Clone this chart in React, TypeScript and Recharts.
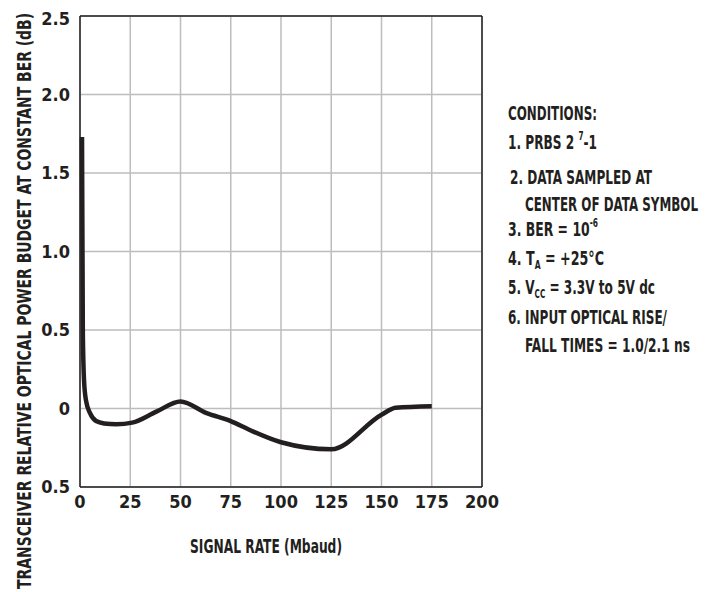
import { LineChart, Line, XAxis, YAxis, CartesianGrid, ReferenceLine } from 'recharts'

// signal rate (Mbaud) and relative optical power budget (dB)
const rates = [1, 1.4, 2, 3, 5, 8, 12, 18, 26, 38, 50, 63, 75, 85, 100, 125, 150, 157, 175]
const budget = [1.73, 0.5, 0.18, 0.05, -0.03, -0.08, -0.095, -0.1, -0.09, -0.02, 0.045, -0.03, -0.08, -0.14, -0.215, -0.26, -0.04, 0.005, 0.015]

const xTicks = [0, 25, 50, 75, 100, 125, 150, 175, 200]
const yTicks = [-0.5, 0, 0.5, 1, 1.5, 2, 2.5]

const xTitle = 'SIGNAL RATE (Mbaud)'
const yTitle = 'TRANSCEIVER RELATIVE OPTICAL POWER BUDGET AT CONSTANT BER (dB)'

const data = rates.map((rate, i) => ({ rate, budget: budget[i] }))

const FONT = '"DejaVu Sans Condensed", "Liberation Sans Narrow", "Liberation Sans", sans-serif'
const INK = '#231f20'

const fmtY = (v: number) => (v === 0 ? '0' : Math.abs(v).toFixed(1))

const Note = ({ x, y, w, children }: { x: number; y: number; w: number; children: any }) => (
  <text
    x={x}
    y={y}
    fontFamily={FONT}
    fontWeight={700}
    fontSize={20}
    fill={INK}
    textLength={w}
    lengthAdjust="spacingAndGlyphs"
  >
    {children}
  </text>
)

export default function App() {
  return (
    <div style={{ position: 'relative', width: 700, height: 584 }}>
      <LineChart
        width={700}
        height={580}
        data={data}
        margin={{ top: 8, right: 226, left: 12, bottom: 71 }}
      >
        <CartesianGrid stroke="#bdbdbd" strokeWidth={1.5} />
        <XAxis
          type="number"
          dataKey="rate"
          domain={[0, 200]}
          ticks={xTicks}
          height={30}
          tickLine={false}
          tickMargin={2}
          axisLine={{ stroke: INK, strokeWidth: 1.5 }}
          tick={{ fill: INK, fontSize: 18, fontWeight: 700, fontFamily: FONT }}
        />
        <YAxis
          type="number"
          domain={[-0.5, 2.5]}
          ticks={yTicks}
          width={60}
          tickLine={false}
          tickMargin={4}
          tickFormatter={fmtY}
          axisLine={{ stroke: INK, strokeWidth: 1.5 }}
          tick={{ fill: INK, fontSize: 18, fontWeight: 700, fontFamily: FONT }}
        />
        <ReferenceLine y={2.5} stroke={INK} strokeWidth={1.5} />
        <ReferenceLine x={200} stroke={INK} strokeWidth={1.5} />
        <Line
          type="monotone"
          dataKey="budget"
          stroke={INK}
          strokeWidth={4.5}
          dot={false}
          isAnimationActive={false}
        />
      </LineChart>

      <svg
        width={700}
        height={584}
        style={{ position: 'absolute', left: 0, top: 0, pointerEvents: 'none' }}
      >
        <text
          x={258}
          y={545}
          textAnchor="middle"
          fontFamily={FONT}
          fontWeight={700}
          fontSize={20}
          fill={INK}
          textLength={152}
          lengthAdjust="spacingAndGlyphs"
        >
          {xTitle}
        </text>
        <text
          transform="translate(16, 293) rotate(-90)"
          textAnchor="middle"
          dominantBaseline="central"
          fontFamily={FONT}
          fontWeight={700}
          fontSize={20}
          fill={INK}
          textLength={576}
          lengthAdjust="spacingAndGlyphs"
        >
          {yTitle}
        </text>

        <Note x={500} y={112} w={89}>CONDITIONS:</Note>
        <Note x={500} y={141} w={89}>
          1. PRBS 2 <tspan fontSize={12} dy={-9}>7</tspan>
          <tspan dy={9}>-1</tspan>
        </Note>
        <Note x={502} y={176} w={142}>2. DATA SAMPLED AT</Note>
        <Note x={517} y={203} w={173}>CENTER OF DATA SYMBOL</Note>
        <Note x={500} y={228} w={90}>
          3. BER = 10<tspan fontSize={12} dy={-9}>-6</tspan>
        </Note>
        <Note x={500} y={257} w={96}>
          4. T<tspan fontSize={12} dy={4}>A</tspan>
          <tspan dy={-4}> = +25°C</tspan>
        </Note>
        <Note x={500} y={286} w={147}>
          5. V<tspan fontSize={12} dy={4}>CC</tspan>
          <tspan dy={-4}> = 3.3V to 5V dc</tspan>
        </Note>
        <Note x={500} y={316} w={159}>6. INPUT OPTICAL RISE/</Note>
        <Note x={517} y={344} w={165}>FALL TIMES = 1.0/2.1 ns</Note>
      </svg>
    </div>
  )
}
